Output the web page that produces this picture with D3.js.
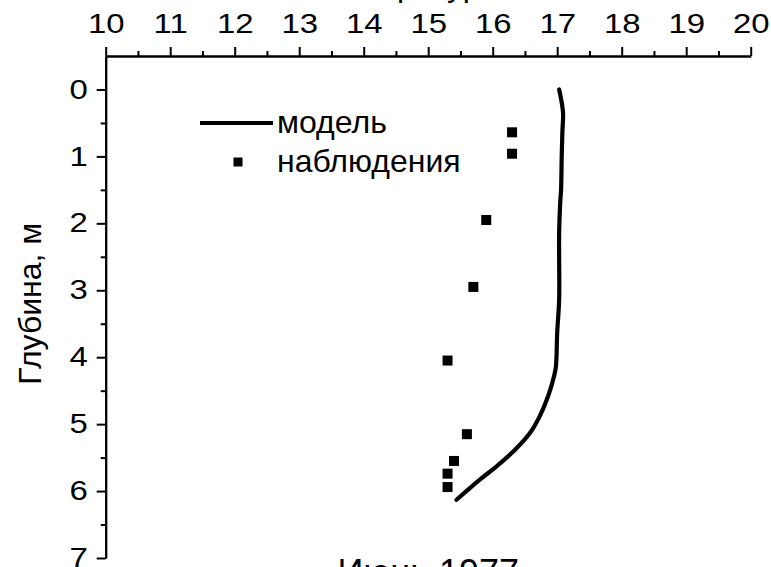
<!DOCTYPE html>
<html>
<head>
<meta charset="utf-8">
<script src="https://cdn.jsdelivr.net/npm/d3@7"></script>
<style>
  html, body { margin: 0; padding: 0; background: #fff; }
  svg { display: block; font-family: "Liberation Sans", Arial, Helvetica, sans-serif; }
</style>
</head>
<body>
<svg id="chart" width="771" height="567"></svg>
<script>
// Water temperature profile, June 1977: model vs observations
const modelTemp  = [17.03, 17.09, 17.08, 17.07, 17.06, 17.05, 17.03, 17.03, 17.00, 16.98, 16.95, 16.86, 16.73, 16.58, 16.35, 16.06, 15.80, 15.44];
const modelDepth = [0.00, 0.34, 0.64, 1.00, 1.50, 1.64, 2.14, 3.14, 3.63, 4.14, 4.29, 4.58, 4.88, 5.13, 5.38, 5.63, 5.83, 6.13];

const obsTemp  = [16.30, 16.30, 15.90, 15.70, 15.30, 15.60, 15.40, 15.30, 15.30];
const obsDepth = [0.64, 0.96, 1.95, 2.95, 4.05, 5.15, 5.55, 5.74, 5.94];

const xTicks = [10, 11, 12, 13, 14, 15, 16, 17, 18, 19, 20];
const yTicks = [0, 1, 2, 3, 4, 5, 6, 7];

const legendLabels = ["модель", "наблюдения"];
const xTitle = "Температура, °С";
const yTitle = "Глубина, м";
const caption = "Июнь 1977";

const svg = d3.select("#chart");

const x = d3.scaleLinear().domain([10, 20]).range([105.7, 750.7]);
const y = d3.scaleLinear().domain([-0.5, 7]).range([56, 558]);

const minorX = d3.range(10.5, 20, 1);
const minorY = d3.range(0.5, 7, 1);

// tick labels use a slightly widened face
const widen = 1.22;

// top axis: major ticks with labels, minor ticks without
const gx = svg.append("g").attr("transform", `translate(0,${y(-0.5)})`);
gx.call(d3.axisTop(x).tickValues(xTicks).tickFormat(d3.format("d")).tickSize(9).tickSizeOuter(0).tickPadding(14));
const gxm = svg.append("g").attr("transform", `translate(0,${y(-0.5)})`);
gxm.call(d3.axisTop(x).tickValues(minorX).tickFormat("").tickSize(5).tickSizeOuter(0));

// left axis
const gy = svg.append("g").attr("transform", `translate(${x(10)},0)`);
gy.call(d3.axisLeft(y).tickValues(yTicks).tickFormat(d3.format("d")).tickSize(9).tickSizeOuter(0).tickPadding(9));
const gym = svg.append("g").attr("transform", `translate(${x(10)},0)`);
gym.call(d3.axisLeft(y).tickValues(minorY).tickFormat("").tickSize(5).tickSizeOuter(0));

svg.selectAll(".domain").attr("stroke", "#000").attr("stroke-width", 2);
svg.selectAll(".tick line").attr("stroke", "#000").attr("stroke-width", 2);
svg.selectAll(".tick text").attr("fill", "#000").style("font-size", "27px")
   .style("font-family", "'Liberation Sans', Arial, sans-serif");
gx.selectAll(".tick text").attr("transform", `scale(${widen},1)`);
gy.selectAll(".tick text").attr("x", -18 / widen).attr("transform", `scale(${widen},1)`);

// axis titles and caption
svg.append("text").attr("x", x(15)).attr("y", -4).attr("text-anchor", "middle")
   .style("font-size", "32px").text(xTitle);
svg.append("text").attr("transform", `translate(41,${y(3.2)}) rotate(-90)`)
   .attr("text-anchor", "middle").style("font-size", "32px").text(yTitle);
svg.append("text").attr("x", x(15)).attr("y", 585).attr("text-anchor", "middle")
   .style("font-size", "36px").text(caption);

// model curve
const model = modelTemp.map((t, i) => [t, modelDepth[i]]);
svg.append("path").datum(model)
   .attr("fill", "none").attr("stroke", "#000").attr("stroke-width", 4.2)
   .attr("stroke-linecap", "round").attr("stroke-linejoin", "round")
   .attr("d", d3.line().x(d => x(d[0])).y(d => y(d[1])).curve(d3.curveCatmullRom.alpha(0.5)));

// observations
const sq = 10;
svg.append("g").selectAll("rect").data(obsTemp.map((t, i) => [t, obsDepth[i]])).join("rect")
   .attr("x", d => x(d[0]) - sq / 2).attr("y", d => y(d[1]) - sq / 2)
   .attr("width", sq).attr("height", sq).attr("fill", "#000");

// legend
const lg = svg.append("g");
lg.append("line").attr("x1", 200).attr("x2", 273).attr("y1", 123).attr("y2", 123)
  .attr("stroke", "#000").attr("stroke-width", 4.2);
lg.append("rect").attr("x", 238 - 4.5).attr("y", 162 - 4.5).attr("width", 9).attr("height", 9).attr("fill", "#000");
lg.selectAll("text").data(legendLabels).join("text")
  .attr("x", 277).attr("y", (d, i) => 123 + i * 39).attr("dy", "0.32em")
  .style("font-size", "32px").text(d => d);
</script>
</body>
</html>
